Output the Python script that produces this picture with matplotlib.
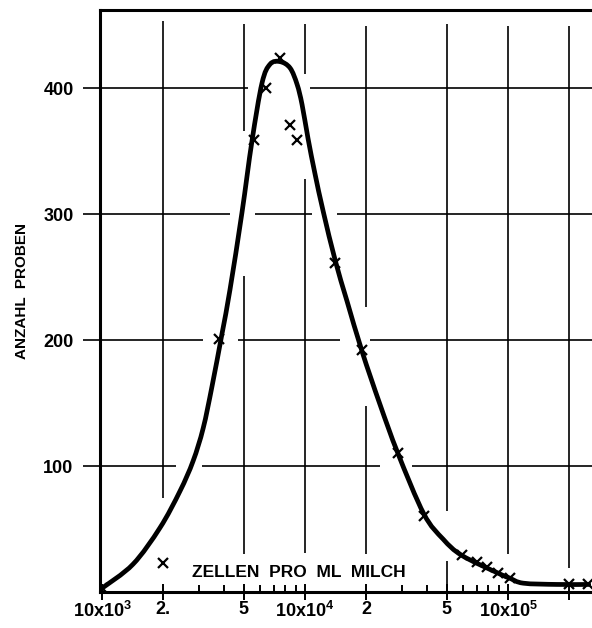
import numpy as np
import matplotlib
matplotlib.use('Agg')
import matplotlib.pyplot as plt
from matplotlib.path import Path
from matplotlib.patches import PathPatch
from matplotlib.ticker import FixedLocator, FixedFormatter, NullFormatter

plt.rcParams['font.family'] = ['Liberation Sans', 'DejaVu Sans']
plt.rcParams['font.weight'] = 'bold'
plt.rcParams['mathtext.fontset'] = 'custom'
plt.rcParams['mathtext.rm'] = 'Liberation Sans:bold'
plt.rcParams['mathtext.bf'] = 'Liberation Sans:bold'

# Zellzahl pro ml Milch und Anzahl der Proben (Messpunkte)
zellen = [1.0e4, 2.0e4, 3.75e4, 5.6e4, 6.4e4, 7.5e4, 8.4e4, 9.1e4, 1.41e5, 1.91e5,
          2.87e5, 3.85e5, 5.93e5, 7.0e5, 7.9e5, 8.9e5, 1.02e6, 2.0e6, 2.48e6]
proben = [3, 23, 201, 359, 400, 424, 371, 359, 261, 192,
          110, 60, 29, 24, 20, 15, 11, 6, 6]

# ausgeglichene Kurve
kurve_x = [1.0e4, 1.42e4, 1.93e4, 2.42e4, 2.81e4, 3.15e4, 3.48e4, 3.90e4, 4.27e4,
           4.89e4, 5.48e4, 6.14e4, 6.73e4, 7.54e4, 8.44e4, 9.14e4,
           9.67e4, 1.035e5, 1.12e5, 1.23e5, 1.41e5, 1.61e5, 1.91e5, 2.34e5, 2.87e5, 3.85e5,
           4.79e5, 5.93e5, 8.93e5, 1.02e6, 1.19e6, 1.74e6, 2.5e6]
kurve_y = [3, 22, 51, 80, 104, 130, 163, 205, 240,
           301, 358, 404, 419, 421, 416, 403,
           387, 360, 332, 302, 263, 231, 191, 149, 110, 62,
           42, 29, 15, 11, 7, 6, 6]

x_major = [1e4, 2e4, 5e4, 1e5, 2e5, 5e5, 1e6, 2e6]
x_labels = [r'10x10$^{3}$', '2.', '5', r'10x10$^{4}$', '2', '5', r'10x10$^{5}$', '']
x_minor = [3e4, 4e4, 6e4, 7e4, 8e4, 9e4, 3e5, 4e5, 6e5, 7e5, 8e5, 9e5]
y_major = [100, 200, 300, 400]

# von Hand gezogene Gitterlinien mit Unterbrechungen
vgrid = {2e4: [(75, 453)], 5e4: [(366, 451), (30, 251)], 1e5: [(411, 451), (31, 328)],
         2e5: [(226, 449), (30, 148)], 5e5: [(64, 451), (0, 25)], 1e6: [(30, 449)],
         2e6: [(19, 449)]}
xlo, xhi = 10 ** 3.99, 10 ** 6.414
hgrid = {400: [(xlo, 5.23e4), (1.06e5, xhi)],
         300: [(xlo, 4.28e4), (5.68e4, 1.08e5), (1.44e5, xhi)],
         200: [(xlo, 3.15e4), (4.68e4, 1.49e5), (2.09e5, xhi)],
         100: [(xlo, 2.32e4), (3.11e4, 2.34e5), (3.37e5, xhi)]}


def glatte_kurve(xs, ys):
    # Catmull-Rom -> kubische Bezier im log-x-Raum, damit die Linie rund gezeichnet wird
    p = np.column_stack([np.log10(xs), ys])
    p = np.vstack([p[0], p, p[-1]])
    verts = [p[1]]
    codes = [Path.MOVETO]
    for i in range(1, len(p) - 2):
        c1 = p[i] + (p[i + 1] - p[i - 1]) / 6
        c2 = p[i + 1] - (p[i + 2] - p[i]) / 6
        verts += [c1, c2, p[i + 1]]
        codes += [Path.CURVE4] * 3
    verts = np.array(verts)
    verts[:, 0] = 10 ** verts[:, 0]
    return Path(verts, codes)


fig = plt.figure(figsize=(5.92, 6.28), dpi=100)
ax = fig.add_axes([100 / 592, 36 / 628, 492 / 592, 582 / 628])
ax.set_xscale('log')
ax.set_xlim(xlo, xhi)
ax.set_ylim(0, 462)

for xv, segs in vgrid.items():
    for a, b in segs:
        ax.vlines(xv, a, b, color='black', lw=1.2, zorder=1)
for yv, segs in hgrid.items():
    for a, b in segs:
        ax.hlines(yv, a, b, color='black', lw=1.2, zorder=1)

ax.add_patch(PathPatch(glatte_kurve(kurve_x, kurve_y), fill=False, edgecolor='black',
                       lw=3.4, capstyle='round', zorder=3))
ax.plot(zellen, proben, 'x', color='black', ms=6.5, mew=1.6, zorder=4)

ax.xaxis.set_major_locator(FixedLocator(x_major))
ax.xaxis.set_major_formatter(FixedFormatter(x_labels))
ax.xaxis.set_minor_locator(FixedLocator(x_minor))
ax.xaxis.set_minor_formatter(NullFormatter())
ax.yaxis.set_major_locator(FixedLocator(y_major))
ax.yaxis.set_minor_locator(FixedLocator([]))

ax.tick_params(axis='x', which='major', direction='inout', length=11, width=1.4,
               labelsize=13, pad=1)
ax.tick_params(axis='x', which='minor', direction='in', length=5, width=1.4)
ax.tick_params(axis='y', which='major', direction='out', length=12, width=1.2,
               labelsize=13, pad=7)

for s in ['left', 'bottom', 'top']:
    ax.spines[s].set_linewidth(2.2)
ax.spines['right'].set_visible(False)

ax.text(0.404, 0.034, 'ZELLEN  PRO  ML  MILCH', transform=ax.transAxes,
        ha='center', va='center', fontsize=12.5, fontweight='bold')
fig.text(22 / 592, 1 - 291 / 628, 'ANZAHL  PROBEN', rotation=90,
         ha='center', va='center', fontsize=11, fontweight='bold')

fig.savefig('out.png', dpi=100)
